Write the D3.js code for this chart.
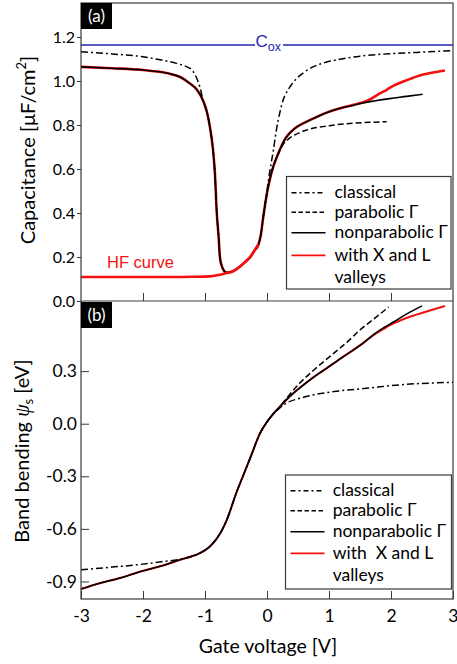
<!DOCTYPE html>
<html><head><meta charset="utf-8">
<script src="https://cdn.jsdelivr.net/npm/d3@7"></script>
<style>body{margin:0;background:#fff}svg{display:block}</style>
</head><body><svg id="c" width="457" height="664"></svg>
<script>
// ---------- data ----------
const xTickValues = [-3, -2, -1, 0, 1, 2, 3];
const capTickValues = [0.0, 0.2, 0.4, 0.6, 0.8, 1.0, 1.2];
const psiTickValues = [-0.9, -0.6, -0.3, 0.0, 0.3];
const coxValue = 1.164;

// Panel (a): capacitance [uF/cm^2] vs gate voltage [V]
const capNonparabolic = [[-3.0,1.064],[-2.5,1.058],[-2.0,1.05],[-1.6,1.035],[-1.4,1.018],[-1.25,0.99],[-1.13,0.96],[-1.03,0.91],[-0.97,0.86],[-0.92,0.79],[-0.87,0.686],[-0.84,0.58],[-0.81,0.40],[-0.78,0.29],[-0.76,0.20],[-0.73,0.16],[-0.70,0.14],[-0.66,0.129],[-0.55,0.135],[-0.44,0.156],[-0.35,0.178],[-0.27,0.20],[-0.20,0.23],[-0.14,0.255],[-0.10,0.30],[-0.06,0.383],[0.02,0.52],[0.06,0.57],[0.10,0.61],[0.16,0.655],[0.21,0.69],[0.30,0.74],[0.45,0.785],[0.60,0.81],[0.75,0.83],[0.95,0.855],[1.18,0.876],[1.40,0.89],[1.55,0.90],[1.75,0.91],[1.98,0.92],[2.25,0.93],[2.51,0.94]];
const capXL = [[-3.0,1.064],[-2.5,1.058],[-2.0,1.05],[-1.6,1.035],[-1.4,1.018],[-1.25,0.99],[-1.13,0.96],[-1.03,0.91],[-0.97,0.86],[-0.92,0.79],[-0.87,0.686],[-0.84,0.58],[-0.81,0.40],[-0.78,0.29],[-0.76,0.20],[-0.73,0.16],[-0.70,0.14],[-0.66,0.129],[-0.55,0.135],[-0.44,0.156],[-0.35,0.178],[-0.27,0.20],[-0.20,0.23],[-0.14,0.255],[-0.10,0.30],[-0.06,0.383],[0.02,0.52],[0.06,0.57],[0.10,0.61],[0.16,0.655],[0.21,0.69],[0.30,0.74],[0.45,0.785],[0.60,0.81],[0.75,0.83],[0.95,0.855],[1.18,0.876],[1.40,0.892],[1.55,0.903],[1.66,0.916],[1.80,0.94],[1.93,0.96],[2.05,0.98],[2.20,0.998],[2.36,1.015],[2.52,1.03],[2.70,1.04],[2.87,1.048]];
const capXLHF = [[-3.0,0.109],[-2.5,0.109],[-2.0,0.109],[-1.5,0.109],[-1.2,0.110],[-0.92,0.112],[-0.80,0.117],[-0.68,0.125],[-0.55,0.135],[-0.44,0.156],[-0.35,0.178],[-0.27,0.20],[-0.20,0.23],[-0.14,0.258]];
const capClassical = [[-3.0,1.133],[-2.5,1.123],[-2.0,1.11],[-1.7,1.095],[-1.46,1.08],[-1.30,1.065],[-1.21,1.05],[-1.13,1.01],[-1.08,0.97],[-1.03,0.91],[-0.97,0.86],[-0.92,0.79],[-0.87,0.686],[-0.84,0.58],[-0.81,0.40],[-0.78,0.29],[-0.76,0.20],[-0.73,0.16],[-0.70,0.14],[-0.66,0.129],[-0.55,0.135],[-0.44,0.156],[-0.35,0.178],[-0.27,0.20],[-0.20,0.23],[-0.14,0.255],[-0.10,0.30],[-0.06,0.383],[0.0,0.50],[0.04,0.58],[0.10,0.68],[0.156,0.785],[0.21,0.86],[0.26,0.914],[0.32,0.95],[0.40,0.985],[0.48,1.012],[0.60,1.04],[0.75,1.065],[0.95,1.085],[1.18,1.099],[1.50,1.113],[1.82,1.121],[2.10,1.126],[2.41,1.13],[2.70,1.134],[3.0,1.138]];
const capParabolic = [[-0.06,0.383],[0.02,0.52],[0.06,0.57],[0.10,0.61],[0.16,0.655],[0.21,0.685],[0.26,0.712],[0.35,0.737],[0.45,0.755],[0.64,0.777],[0.96,0.795],[1.18,0.803],[1.39,0.808],[1.65,0.812],[1.93,0.815]];

// Panel (b): band bending psi_s [eV] vs gate voltage [V]
const psiNonparabolic = [[-3.0,-0.943],[-2.7,-0.91],[-2.37,-0.88],[-2.1,-0.85],[-1.83,-0.823],[-1.6,-0.80],[-1.4,-0.776],[-1.2,-0.755],[-1.08,-0.738],[-0.92,-0.70],[-0.81,-0.655],[-0.73,-0.61],[-0.65,-0.55],[-0.49,-0.39],[-0.40,-0.31],[-0.27,-0.195],[-0.11,-0.053],[-0.03,-0.005],[0.075,0.045],[0.21,0.098],[0.35,0.15],[0.53,0.205],[0.75,0.265],[0.96,0.316],[1.2,0.375],[1.39,0.42],[1.55,0.46],[1.71,0.506],[1.87,0.545],[2.04,0.58],[2.25,0.625],[2.5,0.672]];
const psiXL = [[-3.0,-0.943],[-2.7,-0.91],[-2.37,-0.88],[-2.1,-0.85],[-1.83,-0.823],[-1.6,-0.80],[-1.4,-0.776],[-1.2,-0.755],[-1.08,-0.738],[-0.92,-0.70],[-0.81,-0.655],[-0.73,-0.61],[-0.65,-0.55],[-0.49,-0.39],[-0.40,-0.31],[-0.27,-0.195],[-0.11,-0.053],[-0.03,-0.005],[0.075,0.045],[0.21,0.098],[0.35,0.15],[0.53,0.205],[0.75,0.265],[0.96,0.316],[1.2,0.375],[1.39,0.42],[1.55,0.46],[1.71,0.503],[1.87,0.538],[2.04,0.572],[2.25,0.603],[2.41,0.622],[2.6,0.643],[2.87,0.672]];
const psiClassical = [[-3.0,-0.833],[-2.5,-0.818],[-2.1,-0.805],[-1.7,-0.787],[-1.3,-0.766],[-1.1,-0.742],[-0.92,-0.70],[-0.81,-0.655],[-0.73,-0.61],[-0.65,-0.55],[-0.49,-0.39],[-0.40,-0.31],[-0.27,-0.195],[-0.11,-0.053],[-0.03,-0.005],[0.075,0.045],[0.18,0.082],[0.30,0.115],[0.53,0.145],[0.80,0.168],[1.07,0.183],[1.60,0.202],[2.15,0.222],[3.0,0.236]];
const psiParabolic = [[-0.11,-0.053],[-0.03,-0.005],[0.075,0.045],[0.21,0.098],[0.35,0.16],[0.53,0.232],[0.80,0.32],[1.07,0.40],[1.30,0.468],[1.50,0.535],[1.75,0.605],[1.96,0.665]];

const legendLabels = ["classical", "parabolic \u0393", "nonparabolic \u0393", "with X and L", "valleys"];
const legendLabelsB = ["classical", "parabolic \u0393", "nonparabolic \u0393", "with\u00a0 X and L", "valleys"];

// ---------- drawing ----------
const FONT = "Lato, 'Open Sans', sans-serif";
const ARIAL = "'Liberation Sans', Arial, sans-serif";
const RED = "#f51010", BLUE = "#2525b0", AX = "#3a3a3a", TXT = "#000";
const svg = d3.select("#c");

const x = d3.scaleLinear().domain([-3, 3]).range([81, 453]);
const yTop = d3.scaleLinear().domain([0, 1.3545]).range([301, 3]);
const yBot = d3.scaleLinear().domain([-1.0, 0.7]).range([599, 301]);

const styles = {
  classical: {stroke: "#000", width: 1.5, dash: "7,3,2,3"},
  parabolic: {stroke: "#000", width: 1.5, dash: "6,3"},
  nonpar: {stroke: "#000", width: 1.6, dash: null},
  xl: {stroke: RED, width: 2.6, dash: null}
};

function drawLine(g, data, ys, st) {
  const line = d3.line().x(d => x(d[0])).y(d => ys(d[1])).curve(d3.curveMonotoneX);
  g.append("path").datum(data).attr("d", line)
    .attr("fill", "none").attr("stroke", st.stroke).attr("stroke-width", st.width)
    .attr("stroke-dasharray", st.dash).attr("stroke-linejoin", "round");
}

const plot = svg.append("g");
// top panel curves
drawLine(plot, capXL, yTop, styles.xl);
drawLine(plot, capClassical, yTop, styles.classical);
drawLine(plot, capParabolic, yTop, styles.parabolic);
drawLine(plot, capNonparabolic, yTop, styles.nonpar);
drawLine(plot, capXLHF, yTop, styles.xl);
// bottom panel curves
drawLine(plot, psiXL, yBot, {stroke: RED, width: 2, dash: null});
drawLine(plot, psiClassical, yBot, styles.classical);
drawLine(plot, psiParabolic, yBot, styles.parabolic);
drawLine(plot, psiNonparabolic, yBot, styles.nonpar);

// Cox line with label gap
const yc = yTop(coxValue);
svg.append("line").attr("x1", 81).attr("x2", 255).attr("y1", yc).attr("y2", yc).attr("stroke", BLUE).attr("stroke-width", 1.5);
svg.append("line").attr("x1", 283).attr("x2", 453).attr("y1", yc).attr("y2", yc).attr("stroke", BLUE).attr("stroke-width", 1.5);
const cox = svg.append("text").attr("x", 255.5).attr("y", yc + 2).attr("fill", BLUE).attr("font-family", ARIAL).attr("font-size", 17);
cox.append("tspan").text("C");
cox.append("tspan").attr("font-size", 12.5).attr("dy", 4).text("ox");

// HF curve label
svg.append("text").attr("x", 107).attr("y", 268).attr("fill", RED).attr("font-family", ARIAL).attr("font-size", 16.5).text("HF curve");

// Axes
function styleAxis(g, fs) {
  g.select(".domain").remove();
  g.selectAll("line").attr("stroke", AX);
  g.selectAll("text").attr("font-family", FONT).attr("font-size", fs).attr("fill", TXT);
}
const fmt = d => d.toFixed(1);
svg.append("g").attr("transform", "translate(81,0)")
  .call(d3.axisLeft(yTop).tickValues(capTickValues).tickFormat(fmt).tickSizeInner(4).tickSizeOuter(0).tickPadding(2))
  .call(g => styleAxis(g, 16));
svg.append("g").attr("transform", "translate(81,0)")
  .call(d3.axisLeft(yBot).tickValues(psiTickValues).tickFormat(fmt).tickSizeInner(-8).tickSizeOuter(0).tickPadding(4))
  .call(g => styleAxis(g, 17.5));
svg.append("g").attr("transform", "translate(0,301)")
  .call(d3.axisBottom(x).tickValues(xTickValues.slice(1, -1)).tickFormat("").tickSizeInner(-8).tickSizeOuter(0))
  .call(g => styleAxis(g, 16));
svg.append("g").attr("transform", "translate(0,599)")
  .call(d3.axisBottom(x).tickValues(xTickValues).tickFormat(d => d).tickSizeInner(-8).tickSizeOuter(0).tickPadding(11))
  .call(g => styleAxis(g, 17.5))
  .call(g => g.selectAll(".tick").filter(d => d === 3).select("text").attr("text-anchor", "end").attr("x", 5));

// Frame
const fr = svg.append("g").attr("stroke", AX).attr("stroke-width", 1.2).attr("fill", "none");
fr.append("rect").attr("x", 81).attr("y", 3).attr("width", 372).attr("height", 596);
fr.append("line").attr("x1", 81).attr("x2", 453).attr("y1", 301).attr("y2", 301);

// Panel labels
[["(a)", 3], ["(b)", 302]].forEach(([t, y0]) => {
  svg.append("rect").attr("x", 81).attr("y", y0).attr("width", 31).attr("height", 26).attr("fill", "#000");
  svg.append("text").attr("x", 96.5).attr("y", y0 + 19).attr("text-anchor", "middle").attr("fill", "#fff")
    .attr("font-family", FONT).attr("font-size", 17).text(t);
});

// Axis titles
const t1 = svg.append("text").attr("transform", "translate(35,150) rotate(-90)").attr("text-anchor", "middle")
  .attr("font-family", FONT).attr("font-size", 20).attr("fill", TXT);
t1.append("tspan").text("Capacitance [\u03bcF/cm");
t1.append("tspan").attr("font-size", 13).attr("dy", -9).text("2");
t1.append("tspan").attr("dy", 9).text("]");
const t2 = svg.append("text").attr("transform", "translate(29,451) rotate(-90)").attr("text-anchor", "middle")
  .attr("font-family", FONT).attr("font-size", 20).attr("fill", TXT);
t2.append("tspan").text("Band bending ");
t2.append("tspan").attr("font-family", "'Liberation Serif', 'DejaVu Serif', serif").attr("font-style", "italic").text("\u03c8");
t2.append("tspan").attr("font-size", 13).attr("dy", 4).text("s");
t2.append("tspan").attr("dy", -4).text(" [eV]");
svg.append("text").attr("x", 268).attr("y", 653).attr("text-anchor", "middle")
  .attr("font-family", FONT).attr("font-size", 19.5).attr("fill", TXT).text("Gate voltage [V]");

// Legends
function legend(box, labels, rows, textX) {
  const g = svg.append("g");
  g.append("rect").attr("x", box[0]).attr("y", box[1]).attr("width", box[2]).attr("height", box[3])
    .attr("fill", "#fff").attr("stroke", AX).attr("stroke-width", 1.2);
  const st = [styles.classical, styles.parabolic, styles.nonpar, {stroke: RED, width: 1.8, dash: null}];
  st.forEach((s, i) => {
    g.append("line").attr("x1", box[0] + 5).attr("x2", box[0] + 39).attr("y1", rows[i]).attr("y2", rows[i])
      .attr("stroke", s.stroke).attr("stroke-width", s.width).attr("stroke-dasharray", s.dash === "6,3" ? "4.5,2.5" : (s.dash ? "5,3,2,3" : null));
  });
  labels.forEach((t, i) => {
    g.append("text").attr("x", textX).attr("y", rows[i]).attr("dy", "0.32em")
      .attr("font-family", FONT).attr("font-size", 17.5).attr("fill", TXT).text(t);
  });
}
legend([286.5, 176.5, 164.5, 112.5], legendLabels, [192.7, 212.3, 232.7, 255.3, 277.3], 334.5);
legend([285.5, 475, 166, 114], legendLabelsB, [490.7, 510.7, 531.7, 553.3, 575], 332.7);
</script></body></html>
